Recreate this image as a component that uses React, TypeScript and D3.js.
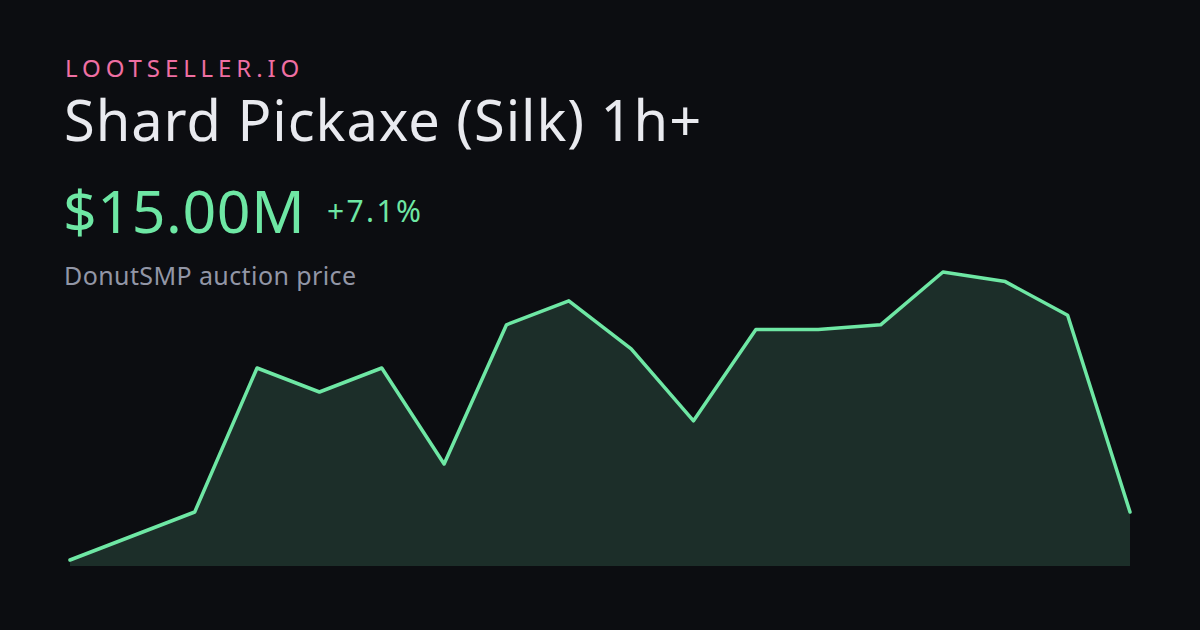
import React from "react";
import * as d3 from "d3";

const brand = "LOOTSELLER.IO";
const title = "Shard Pickaxe (Silk) 1h+";
const priceLabel = "$15.00M";
const changeLabel = "+7.1%";
const subtitle = "DonutSMP auction price";

// price in millions, oldest -> newest
const prices: number[] = [
  14.0, 14.5, 15.0, 18.0, 17.5, 18.0, 16.0, 18.9, 19.4, 18.4, 16.9, 18.8, 18.8, 18.9, 20.0, 19.8, 19.1, 15.0,
];
const indices: number[] = prices.map((_, i) => i);

const W = 1200;
const H = 630;

export default function App() {
  const x = d3.scaleLinear().domain([0, prices.length - 1]).range([70, 1130]);
  const y = d3.scaleLinear().domain([14, 20]).range([560, 272]);
  const baseY = 566;

  const line = d3
    .line<number>()
    .x((i) => x(i))
    .y((i) => y(prices[i]));
  const area = d3
    .area<number>()
    .x((i) => x(i))
    .y0(baseY)
    .y1((i) => y(prices[i]));

  const font = "'Noto Sans', 'Open Sans', sans-serif";

  return (
    <svg
      width={W}
      height={H}
      viewBox={`0 0 ${W} ${H}`}
      style={{ position: "fixed", top: 0, left: 0, display: "block" }}
    >
      <rect x={0} y={0} width={W} height={H} fill="#0c0d11" />
      <text x={65} y={77} fill="#ef6fa3" fontFamily={font} fontSize={24} letterSpacing={4.9}>
        {brand}
      </text>
      <text x={64} y={141} fill="#e9eaef" fontFamily={font} fontSize={56} letterSpacing={0.95}>
        {title}
      </text>
      <text x={63} y={233} fill="#6ee7a4" fontFamily={font} fontSize={59} letterSpacing={0.6}>
        {priceLabel}
      </text>
      <text x={327} y={222} fill="#6ee7a4" fontFamily={font} fontSize={30} letterSpacing={2.4}>
        {changeLabel}
      </text>
      <text x={64} y={285} fill="#9296a6" fontFamily={font} fontSize={25} letterSpacing={0.4}>
        {subtitle}
      </text>
      <path d={area(indices) || ""} fill="#1c2e29" />
      <path
        d={line(indices) || ""}
        fill="none"
        stroke="#6ee7a4"
        strokeWidth={3.5}
        strokeLinejoin="round"
        strokeLinecap="round"
      />
    </svg>
  );
}
